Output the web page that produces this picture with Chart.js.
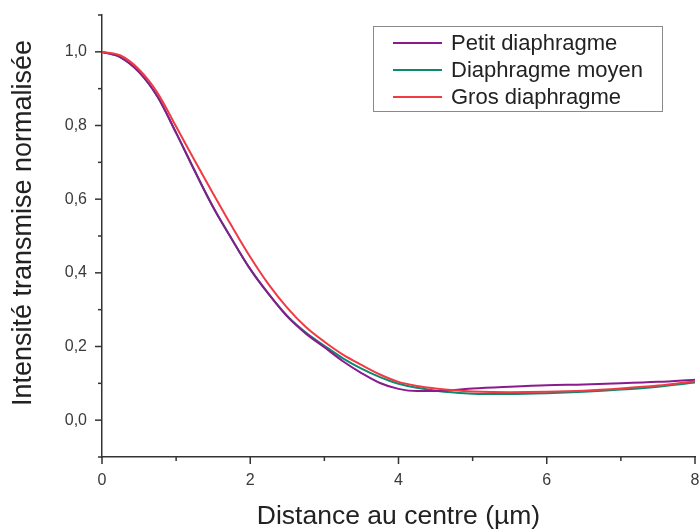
<!DOCTYPE html>
<html>
<head>
<meta charset="utf-8">
<script src="https://cdn.jsdelivr.net/npm/chart.js@4.4.1/dist/chart.umd.min.js"></script>
<style>
  html, body { margin: 0; padding: 0; background: #fff; }
  #wrap { width: 700px; height: 529px; }
</style>
</head>
<body>
<div id="wrap"><canvas id="profil"></canvas></div>
<script>
const distances = [0, 0.25, 0.5, 0.75, 1, 1.25, 1.5, 1.75, 2, 2.25, 2.5, 2.75, 3, 3.25, 3.5, 3.75, 4, 4.25, 4.5, 4.75, 5, 5.5, 6, 6.5, 7, 7.5, 8];
const petit = [1.0, 0.985, 0.945, 0.878, 0.78, 0.677, 0.578, 0.492, 0.41, 0.342, 0.281, 0.235, 0.198, 0.160, 0.128, 0.101, 0.085, 0.079, 0.079, 0.082, 0.086, 0.091, 0.095, 0.097, 0.100, 0.104, 0.110];
const moyen = [1.0, 0.985, 0.945, 0.878, 0.78, 0.677, 0.578, 0.492, 0.41, 0.342, 0.283, 0.238, 0.202, 0.168, 0.140, 0.117, 0.099, 0.088, 0.080, 0.075, 0.072, 0.071, 0.073, 0.077, 0.083, 0.091, 0.102];
const gros = [1.0, 0.99, 0.952, 0.888, 0.797, 0.705, 0.615, 0.527, 0.443, 0.368, 0.305, 0.253, 0.213, 0.178, 0.150, 0.124, 0.104, 0.093, 0.086, 0.081, 0.078, 0.076, 0.077, 0.080, 0.086, 0.094, 0.106];

const seriesNames = ["Petit diaphragme", "Diaphragme moyen", "Gros diaphragme"];
const xTicks = [0, 1, 2, 3, 4, 5, 6, 7, 8];
const xTickLabels = ["0", "", "2", "", "4", "", "6", "", "8"];
const yTicks = [-0.1, 0, 0.1, 0.2, 0.3, 0.4, 0.5, 0.6, 0.7, 0.8, 0.9, 1.0, 1.1];
const yTickLabels = ["", "0,0", "", "0,2", "", "0,4", "", "0,6", "", "0,8", "", "1,0", ""];
const xTitle = "Distance au centre (µm)";
const yTitle = "Intensité transmise normalisée";

const FONT = "'Liberation Sans', Arial, sans-serif";
const AXIS = "#333";

function pts(values) {
    return distances.map((d, i) => ({ x: d, y: values[i] }));
}

function labelFor(list, labels, v) {
    const i = list.findIndex(t => Math.abs(t - v) < 1e-6);
    return i >= 0 ? labels[i] : "";
}

// ticks (long / short), axis titles and the framed legend
const decor = {
    id: "decor",
    afterDraw(chart) {
        const { ctx, chartArea } = chart;
        const xs = chart.scales.x, ys = chart.scales.y;
        ctx.save();
        ctx.strokeStyle = AXIS;
        ctx.lineWidth = 1.5;
        xTicks.forEach((v, i) => {
            const px = xs.getPixelForValue(v);
            const len = xTickLabels[i] ? 7 : 4;
            ctx.beginPath();
            ctx.moveTo(px, chartArea.bottom);
            ctx.lineTo(px, chartArea.bottom + len);
            ctx.stroke();
        });
        yTicks.forEach((v, i) => {
            const py = ys.getPixelForValue(v);
            const len = yTickLabels[i] ? 7 : 4;
            ctx.beginPath();
            ctx.moveTo(chartArea.left, py);
            ctx.lineTo(chartArea.left - len, py);
            ctx.stroke();
        });

        ctx.fillStyle = "#222";
        ctx.textAlign = "center";
        ctx.textBaseline = "middle";
        ctx.font = "26.5px " + FONT;
        ctx.fillText(xTitle, (chartArea.left + chartArea.right) / 2, 517);
        ctx.save();
        ctx.font = "27px " + FONT;
        ctx.translate(24, 223);
        ctx.rotate(-Math.PI / 2);
        ctx.fillText(yTitle, 0, 0);
        ctx.restore();

        // legend box
        ctx.fillStyle = "#fff";
        ctx.fillRect(373, 26, 289, 85);
        ctx.strokeStyle = "#8a8a8a";
        ctx.lineWidth = 1;
        ctx.strokeRect(373.5, 26.5, 289, 85);
        ctx.font = "22px " + FONT;
        ctx.textAlign = "left";
        chart.data.datasets.forEach((ds, i) => {
            const yy = 43 + i * 27;
            ctx.strokeStyle = ds.borderColor;
            ctx.lineWidth = 2;
            ctx.beginPath();
            ctx.moveTo(393, yy);
            ctx.lineTo(442, yy);
            ctx.stroke();
            ctx.fillStyle = "#222";
            ctx.fillText(ds.label, 451, yy + 1);
        });
        ctx.restore();
    }
};

new Chart(document.getElementById("profil"), {
    type: "line",
    data: {
        datasets: [
            { label: seriesNames[0], data: pts(petit), borderColor: "#8a1b8c", order: 2 },
            { label: seriesNames[1], data: pts(moyen), borderColor: "#0b8a70", order: 3 },
            { label: seriesNames[2], data: pts(gros), borderColor: "#f03a44", order: 1 }
        ]
    },
    options: {
        responsive: true,
        maintainAspectRatio: false,
        animation: false,
        datasets: {
            line: {
                borderWidth: 2,
                pointRadius: 0,
                fill: false,
                cubicInterpolationMode: "monotone"
            }
        },
        layout: { padding: { top: 15, right: 5, left: 0, bottom: 0 } },
        scales: {
            x: {
                type: "linear",
                min: 0,
                max: 8,
                grid: { display: false, drawTicks: false },
                border: { display: true, color: AXIS, width: 1.5 },
                ticks: {
                    stepSize: 1,
                    autoSkip: false,
                    maxRotation: 0,
                    padding: 14,
                    color: "#3a3a3a",
                    font: { family: FONT, size: 16 },
                    callback: v => labelFor(xTicks, xTickLabels, v)
                },
                afterFit(scale) {
                    scale.height = 72;
                    scale.paddingLeft = 0;
                    scale.paddingRight = 0;
                }
            },
            y: {
                min: -0.1,
                max: 1.1,
                grid: { display: false, drawTicks: false },
                border: { display: true, color: AXIS, width: 1.5 },
                ticks: {
                    stepSize: 0.1,
                    autoSkip: false,
                    padding: 15,
                    color: "#3a3a3a",
                    font: { family: FONT, size: 16 },
                    callback: v => labelFor(yTicks, yTickLabels, v)
                },
                afterFit(scale) {
                    scale.width = 102;
                    scale.paddingTop = 0;
                    scale.paddingBottom = 0;
                }
            }
        },
        plugins: {
            legend: { display: false },
            tooltip: { enabled: false }
        }
    },
    plugins: [decor]
});
</script>
</body>
</html>
